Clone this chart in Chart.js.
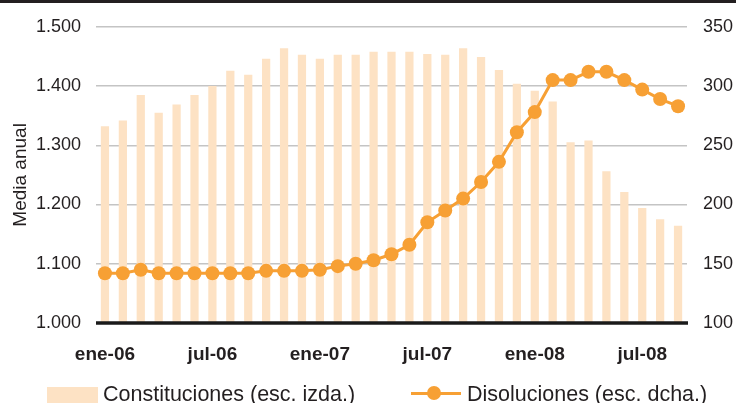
<!DOCTYPE html>
<html>
<head>
<meta charset="utf-8">
<script src="https://cdn.jsdelivr.net/npm/chart.js@4/dist/chart.umd.min.js"></script>
<style>
    html, body { margin: 0; padding: 0; background: #fff; }
    #wrap { position: relative; width: 736px; height: 403px; overflow: hidden; }
    #topline { position: absolute; left: 0; top: 0; width: 736px; height: 3px; background: #231f20; }
    #chart { position: absolute; left: 0; top: 0; }
    .legend-item { position: absolute; font-family: "Liberation Sans", Arial, sans-serif; font-size: 21.5px; color: #231f20; white-space: nowrap; line-height: 21px; }
    .legend-box { position: absolute; }
    .legend-line { position: absolute; height: 3px; }
    .legend-dot { position: absolute; width: 14px; height: 14px; border-radius: 50%; }
</style>
</head>
<body>
<div id="wrap">
    <canvas id="chart" width="736" height="403"></canvas>
    <div id="topline"></div>
    <div id="legend"></div>
</div>
<script>
const MONTHS = ['ene', 'feb', 'mar', 'abr', 'may', 'jun', 'jul', 'ago', 'sep', 'oct', 'nov', 'dic']

// meses ene-06 .. sep-08
const labels = []
for (let y = 6; y <= 8; y++) {
    for (let m = 0; m < 12; m++) {
        if (y == 8 && m > 8) break
        labels.push(`${MONTHS[m]}-0${y}`)
    }
}

const constituciones = [
    1332, 1342, 1385, 1355, 1369, 1385, 1400, 1426, 1419, 1446, 1464, 1453,
    1446, 1453, 1453, 1458, 1458, 1458, 1454, 1453, 1464, 1449, 1427, 1404,
    1392, 1374, 1305, 1308, 1256, 1221, 1194, 1175, 1164
]

const disoluciones = [
    142, 142, 145, 142, 142, 142, 142, 142, 142, 144, 144, 144,
    145, 148, 150, 153, 158, 166, 185, 195, 205, 219, 236, 261,
    278, 305, 305, 312, 312, 305, 297, 289, 283
]

const leftTicks = [1000, 1100, 1200, 1300, 1400, 1500]
const rightTicks = [100, 150, 200, 250, 300, 350]

const BAR_COLOR = '#fde2c4'
const LINE_COLOR = '#f7a034'
const TEXT_COLOR = '#231f20'
const FONT = '"Liberation Sans", Arial, sans-serif'

// 1000 -> "1.000"
function thousands(v) {
    const s = String(v)
    return s.length > 3 ? s.slice(0, s.length - 3) + '.' + s.slice(-3) : s
}

// línea negra del eje x, dibujada por encima de las barras
const baseLine = {
    id: 'baseLine',
    afterDatasetsDraw(chart) {
        const { ctx, chartArea } = chart
        const y = chart.scales.yLeft.getPixelForValue(1000)
        ctx.save()
        ctx.strokeStyle = '#1a1a1a'
        ctx.lineWidth = 3.5
        ctx.beginPath()
        ctx.moveTo(chartArea.left, y)
        ctx.lineTo(chartArea.right + 1, y)
        ctx.stroke()
        ctx.restore()
    }
}

const chart = new Chart(document.getElementById('chart'), {
    data: {
        labels: labels,
        datasets: [
            {
                type: 'line',
                label: 'Disoluciones (esc. dcha.)',
                data: disoluciones,
                yAxisID: 'yRight',
                borderColor: LINE_COLOR,
                backgroundColor: LINE_COLOR,
                borderWidth: 3,
                pointRadius: 7,
                pointBorderWidth: 0,
                pointBackgroundColor: LINE_COLOR,
                tension: 0,
                order: 0
            },
            {
                type: 'bar',
                label: 'Constituciones (esc. izda.)',
                data: constituciones,
                yAxisID: 'yLeft',
                backgroundColor: BAR_COLOR,
                categoryPercentage: 1,
                barPercentage: 0.46,
                order: 1
            }
        ]
    },
    options: {
        responsive: false,
        animation: false,
        devicePixelRatio: 1,
        layout: { padding: { top: 26, left: 0, right: 0, bottom: 0 } },
        plugins: {
            legend: { display: false },
            tooltip: { enabled: false }
        },
        scales: {
            x: {
                offset: true,
                grid: { display: false, drawTicks: false },
                border: { display: false },
                ticks: {
                    autoSkip: false,
                    maxRotation: 0,
                    padding: 20,
                    color: TEXT_COLOR,
                    font: { family: FONT, size: 19, weight: 'bold' },
                    callback: (v, i) => (i % 6 == 0 ? labels[i] : '')
                },
                afterFit: (s) => { s.height = 80 }
            },
            yLeft: {
                position: 'left',
                min: 1000,
                max: 1500,
                afterBuildTicks: (s) => { s.ticks = leftTicks.map(v => ({ value: v })) },
                grid: { color: '#c4c4c4', lineWidth: 1.5, drawTicks: false },
                border: { display: false },
                ticks: {
                    padding: 15,
                    color: TEXT_COLOR,
                    font: { family: FONT, size: 18 },
                    callback: (v) => thousands(v)
                },
                title: {
                    display: true,
                    text: 'Media anual',
                    color: TEXT_COLOR,
                    font: { family: FONT, size: 19 },
                    padding: { top: 9, bottom: 0 }
                },
                afterFit: (s) => { s.width = 96 }
            },
            yRight: {
                position: 'right',
                min: 100,
                max: 350,
                afterBuildTicks: (s) => { s.ticks = rightTicks.map(v => ({ value: v })) },
                grid: { display: false, drawTicks: false },
                border: { display: false },
                ticks: {
                    padding: 16,
                    color: TEXT_COLOR,
                    font: { family: FONT, size: 18 }
                },
                afterFit: (s) => { s.width = 49 }
            }
        }
    },
    plugins: [baseLine]
})

// leyenda en html
const legend = document.getElementById('legend')
const barDs = chart.data.datasets[1]
const lineDs = chart.data.datasets[0]
legend.innerHTML = `
    <div class="legend-box" style="left:47px; top:387px; width:51px; height:16px; background:${barDs.backgroundColor}"></div>
    <div class="legend-item" style="left:103px; top:384px;">${barDs.label}</div>
    <div class="legend-line" style="left:411px; top:392px; width:50px; background:${lineDs.borderColor}"></div>
    <div class="legend-dot" style="left:427px; top:386px; background:${lineDs.borderColor}"></div>
    <div class="legend-item" style="left:467px; top:384px;">${lineDs.label}</div>
`
</script>
</body>
</html>
